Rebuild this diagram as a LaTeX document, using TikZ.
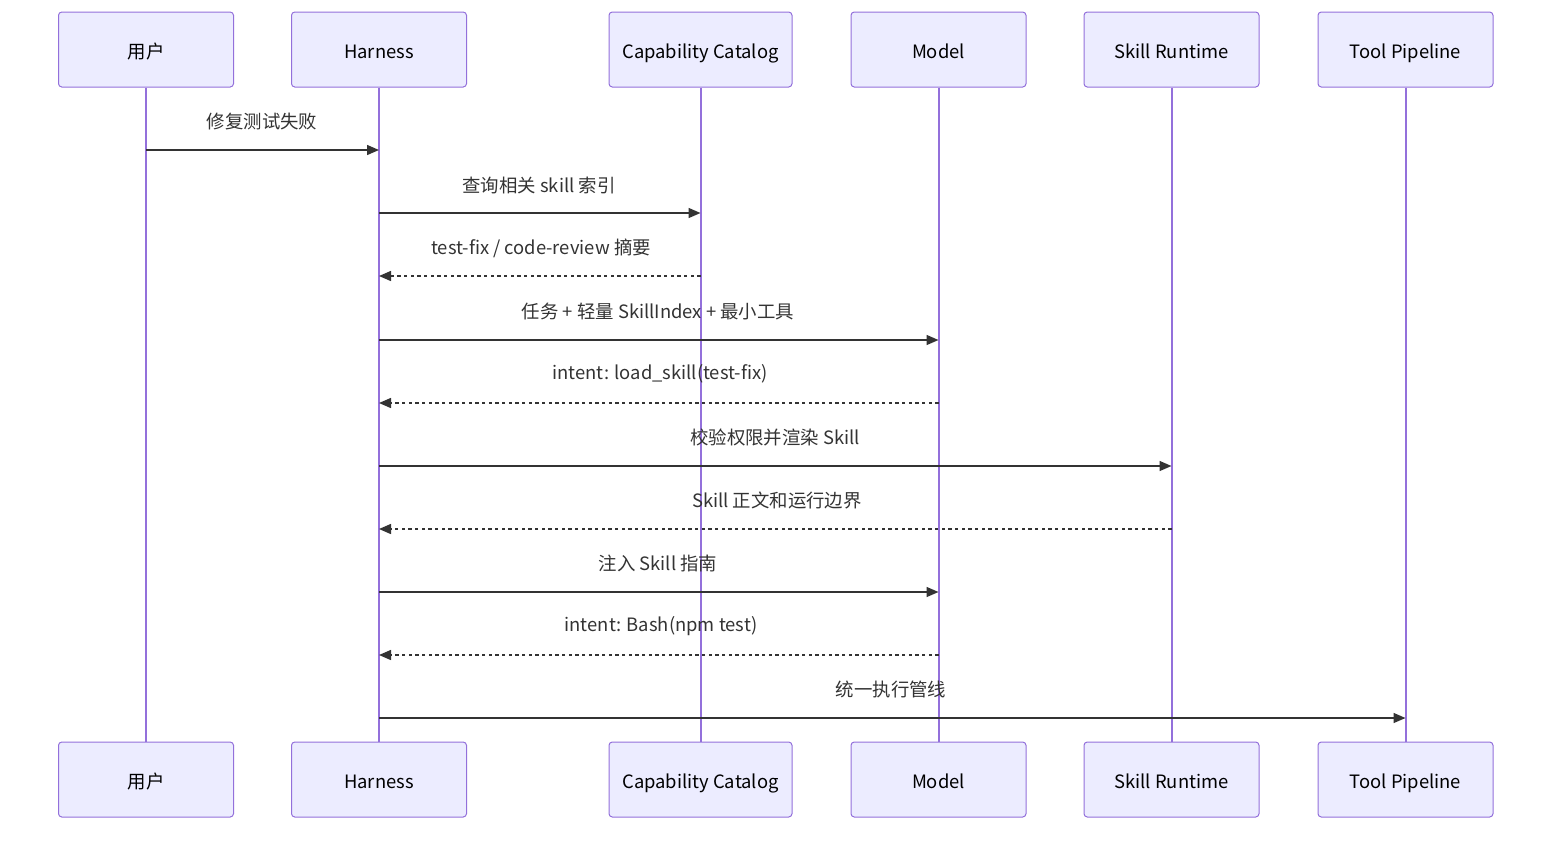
\documentclass[tikz,border=0pt]{standalone}
\usepackage{fontspec}
\setmainfont{Noto Sans CJK SC}
\usetikzlibrary{arrows.meta}
\definecolor{actfill}{HTML}{ECECFF}
\definecolor{actline}{HTML}{9370DB}
\definecolor{msgline}{HTML}{333333}
\begin{document}
\begin{tikzpicture}[x=0.75pt, y=-0.75pt, font=\fontsize{13.8}{16}\selectfont]
\tikzstyle{actor}=[draw=actline, fill=actfill, rounded corners=2.5pt, line width=0.75pt, minimum width=131.25pt, minimum height=56.25pt, text height=15pt, text depth=1pt]
\tikzstyle{wide}=[actor, minimum width=137.25pt]
\tikzstyle{life}=[draw=actline, line width=1.5pt]
\tikzstyle{msg}=[draw=msgline, line width=1.1pt, -{Triangle[length=9pt, width=7.5pt]}]
\tikzstyle{reply}=[msg, dash pattern=on 2.5pt off 2.5pt]
\tikzstyle{lbl}=[text=msgline, inner sep=0pt]
\useasboundingbox (0,0) rectangle (1568,840);
% participants
\node[actor] (usr) at (146,49.5) {用户}; \node[actor] (har) at (379,49.5) {Harness}; \node[wide] (cat) at (700.5,49.5) {Capability Catalog}; \node[actor] (mod) at (938.5,49.5) {Model}; \node[actor] (skr) at (1171.5,49.5) {Skill Runtime}; \node[actor] (tpl) at (1405.5,49.5) {Tool Pipeline};
\node[actor] (usrB) at (146,779.5) {用户}; \node[actor] (harB) at (379,779.5) {Harness}; \node[wide] (catB) at (700.5,779.5) {Capability Catalog}; \node[actor] (modB) at (938.5,779.5) {Model}; \node[actor] (skrB) at (1171.5,779.5) {Skill Runtime}; \node[actor] (tplB) at (1405.5,779.5) {Tool Pipeline};
% lifelines
\draw[life] (usr) -- (usrB); \draw[life] (har) -- (harB); \draw[life] (cat) -- (catB);
\draw[life] (mod) -- (modB); \draw[life] (skr) -- (skrB); \draw[life] (tpl) -- (tplB);
% messages
\node[lbl] (l1) at (262,122) {修复测试失败};
\draw[msg] (usr |- 0,150) -- (har |- 0,150);
\node[lbl] (l2) at (539,185) {查询相关 skill 索引};
\draw[msg] (har |- 0,213) -- (cat |- 0,213);
\node[lbl] (l3) at (541,248) {test-fix / code-review 摘要};
\draw[reply] (cat |- 0,276) -- (har |- 0,276);
\node[lbl] (l4) at (658,311) {任务 + 轻量 SkillIndex + 最小工具};
\draw[msg] (har |- 0,340) -- (mod |- 0,340);
\node[lbl] (l5) at (660,374) {intent: load\_skill(test-fix)};
\draw[reply] (mod |- 0,403) -- (har |- 0,403);
\node[lbl] (l6) at (775,437) {校验权限并渲染 Skill};
\draw[msg] (har |- 0,466) -- (skr |- 0,466);
\node[lbl] (l7) at (777,500) {Skill 正文和运行边界};
\draw[reply] (skr |- 0,529) -- (har |- 0,529);
\node[lbl] (l8) at (658,563) {注入 Skill 指南};
\draw[msg] (har |- 0,592) -- (mod |- 0,592);
\node[lbl] (l9) at (661,626) {intent: Bash(npm test)};
\draw[reply] (mod |- 0,655) -- (har |- 0,655);
\node[lbl] (l10) at (891,689) {统一执行管线};
\draw[msg] (har |- 0,718) -- (tpl |- 0,718);
\end{tikzpicture}
\end{document}
